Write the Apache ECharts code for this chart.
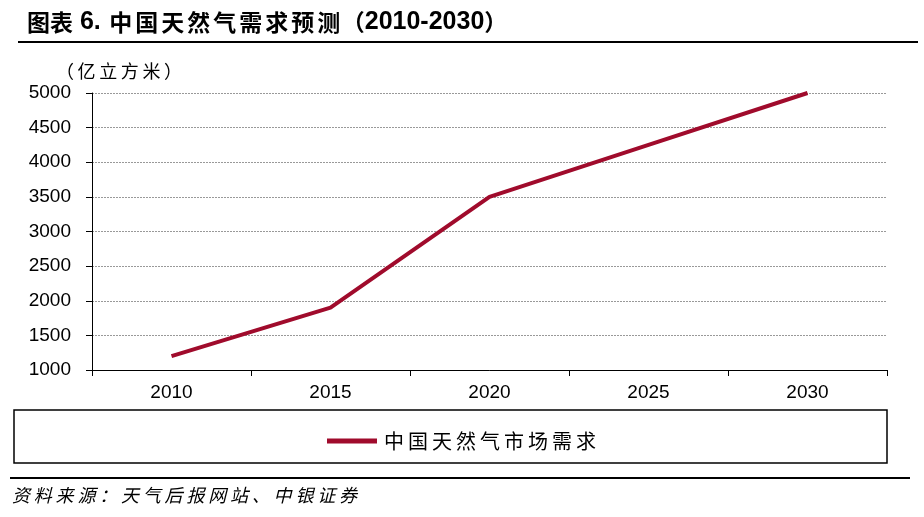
<!DOCTYPE html>
<html><head><meta charset="utf-8">
<script src="https://cdn.jsdelivr.net/npm/echarts@6/dist/echarts.min.js"></script>
<style>html,body{margin:0;padding:0;background:#fff}#c{width:924px;height:517px}</style>
</head><body><div id="c"></div>
<script>
const categories = ['2010','2015','2020','2025','2030'];
const demand = [1200, 1900, 3500, 4250, 5000];
const yTicks = {min:1000, max:5000, interval:500};
const seriesName = '中国天然气市场需求';
const titleParts = ['图表', ' 6. ', '中国天然气需求预测', '（', '2010-2030', '）'];
const unitText = '（亿立方米）';
const sourceText = '资料来源：天气后报网站、中银证券';

// wrap each character in a rich-text token (for character spacing)
function spaced(str, style){ return str.split('').map(c=>'{'+style+'|'+c+'}').join(''); }

const chart = echarts.init(document.getElementById('c'));
const numFont = '"Liberation Sans",Arial,sans-serif';
const cjk = '"Noto Sans CJK SC",sans-serif';
chart.setOption({
  animation:false,
  grid:{left:92, right:37, top:93, bottom:147},
  title:{
    text: spaced(titleParts[0],'a0') + '{b|'+titleParts[1]+'}' + spaced(titleParts[2],'a') +
          '{p|'+titleParts[3]+'}{b|'+titleParts[4]+'}{p|'+titleParts[5]+'}',
    left:22, top:5,
    textStyle:{fontSize:23, rich:{
      a0:{fontSize:23, fontWeight:'bold', color:'#000', fontFamily:cjk},
      a:{fontSize:23, fontWeight:'bold', color:'#000', fontFamily:cjk, padding:[0,1.5,0,1.5]},
      p:{fontSize:23, fontWeight:'bold', color:'#000', fontFamily:cjk},
      b:{fontSize:25, fontWeight:'bold', color:'#000', fontFamily:numFont}
    }}},
  legend:{data:[{name:seriesName}], left:322, top:426, itemWidth:50, itemHeight:5, icon:'rect', itemGap:6,
    formatter:n=>spaced(n,'l'),
    textStyle:{color:'#000', fontSize:20, rich:{l:{fontSize:20, color:'#000', fontFamily:cjk, padding:[0,2,0,2]}}}},
  graphic:[
    {type:'line', shape:{x1:18,y1:42,x2:918,y2:42}, style:{stroke:'#000', lineWidth:2}},
    {type:'rect', shape:{x:14,y:410,width:873,height:53}, style:{fill:'none', stroke:'#000', lineWidth:1.5}},
    {type:'line', shape:{x1:10,y1:478,x2:910,y2:478}, style:{stroke:'#000', lineWidth:2}},
    {type:'text', left:12, top:486, style:{text:spaced(sourceText,'s'), fill:'#000',
      rich:{s:{fontSize:18, fontStyle:'italic', fill:'#000', fontFamily:cjk, padding:[0,1.9,0,1.9]}}}},
    {type:'text', left:56, top:62, style:{text:spaced(unitText,'u'), fill:'#000',
      rich:{u:{fontSize:18, fill:'#000', fontFamily:cjk, padding:[0,1.8,0,1.8]}}}}
  ],
  xAxis:{type:'category', data:categories, boundaryGap:true,
    axisLine:{lineStyle:{color:'#000', width:1}},
    axisTick:{show:true, length:6, lineStyle:{color:'#000'}},
    axisLabel:{fontSize:19, color:'#000', margin:13, fontFamily:numFont},
    splitLine:{show:false}},
  yAxis:{type:'value', min:yTicks.min, max:yTicks.max, interval:yTicks.interval,
    axisLine:{show:true, lineStyle:{color:'#000', width:1}},
    axisTick:{show:true, length:6, lineStyle:{color:'#000'}},
    axisLabel:{fontSize:19, color:'#000', margin:21, fontFamily:numFont, formatter:v=>String(v)},
    splitLine:{show:true, lineStyle:{color:'#999', type:[2,1], width:1}}},
  series:[{name:seriesName, type:'line', data:demand, symbol:'none',
    lineStyle:{color:'#A00B2C', width:4}, itemStyle:{color:'#A00B2C'}}]
});
</script></body></html>
